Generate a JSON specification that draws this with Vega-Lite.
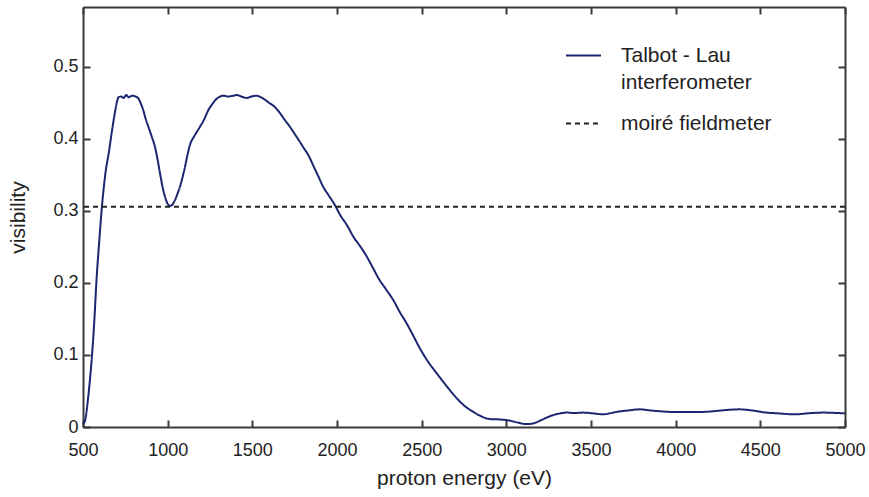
{
  "$schema": "https://vega.github.io/schema/vega-lite/v6.json",
  "width": 762,
  "height": 420,
  "autosize": "none",
  "padding": {"left": 83, "top": 7, "right": 24, "bottom": 70},
  "background": "white",
  "config": {
    "view": {"stroke": null},
    "font": "Liberation Sans",
    "style": {"guide-label": {"lineHeight": 27}},
    "axis": {
      "domainColor": "#3a3a3a",
      "domainWidth": 2,
      "tickColor": "#3a3a3a",
      "tickWidth": 2,
      "tickSize": -7,
      "grid": false,
      "labelFont": "Liberation Sans",
      "labelFontSize": 18,
      "labelColor": "#222222",
      "titleFont": "Liberation Sans",
      "titleFontSize": 21,
      "titleFontWeight": "normal",
      "titleColor": "#222222"
    },
    "legend": {"padding": 0}
  },
  "datasets": {
    "curve": [
      {"energy": 502, "visibility": 0.004, "series": "Talbot - Lau interferometer"},
      {"energy": 515, "visibility": 0.012, "series": "Talbot - Lau interferometer"},
      {"energy": 530, "visibility": 0.04, "series": "Talbot - Lau interferometer"},
      {"energy": 551, "visibility": 0.093, "series": "Talbot - Lau interferometer"},
      {"energy": 565, "visibility": 0.14, "series": "Talbot - Lau interferometer"},
      {"energy": 581, "visibility": 0.209, "series": "Talbot - Lau interferometer"},
      {"energy": 595, "visibility": 0.255, "series": "Talbot - Lau interferometer"},
      {"energy": 610, "visibility": 0.301, "series": "Talbot - Lau interferometer"},
      {"energy": 630, "visibility": 0.348, "series": "Talbot - Lau interferometer"},
      {"energy": 655, "visibility": 0.385, "series": "Talbot - Lau interferometer"},
      {"energy": 669, "visibility": 0.408, "series": "Talbot - Lau interferometer"},
      {"energy": 685, "visibility": 0.432, "series": "Talbot - Lau interferometer"},
      {"energy": 699, "visibility": 0.45, "series": "Talbot - Lau interferometer"},
      {"energy": 710, "visibility": 0.458, "series": "Talbot - Lau interferometer"},
      {"energy": 725, "visibility": 0.459, "series": "Talbot - Lau interferometer"},
      {"energy": 740, "visibility": 0.457, "series": "Talbot - Lau interferometer"},
      {"energy": 755, "visibility": 0.461, "series": "Talbot - Lau interferometer"},
      {"energy": 770, "visibility": 0.458, "series": "Talbot - Lau interferometer"},
      {"energy": 790, "visibility": 0.46, "series": "Talbot - Lau interferometer"},
      {"energy": 810, "visibility": 0.459, "series": "Talbot - Lau interferometer"},
      {"energy": 825, "visibility": 0.457, "series": "Talbot - Lau interferometer"},
      {"energy": 840, "visibility": 0.45, "series": "Talbot - Lau interferometer"},
      {"energy": 856, "visibility": 0.44, "series": "Talbot - Lau interferometer"},
      {"energy": 870, "visibility": 0.428, "series": "Talbot - Lau interferometer"},
      {"energy": 886, "visibility": 0.417, "series": "Talbot - Lau interferometer"},
      {"energy": 905, "visibility": 0.404, "series": "Talbot - Lau interferometer"},
      {"energy": 925, "visibility": 0.389, "series": "Talbot - Lau interferometer"},
      {"energy": 940, "visibility": 0.372, "series": "Talbot - Lau interferometer"},
      {"energy": 955, "visibility": 0.352, "series": "Talbot - Lau interferometer"},
      {"energy": 970, "visibility": 0.333, "series": "Talbot - Lau interferometer"},
      {"energy": 984, "visibility": 0.32, "series": "Talbot - Lau interferometer"},
      {"energy": 1000, "visibility": 0.31, "series": "Talbot - Lau interferometer"},
      {"energy": 1014, "visibility": 0.307, "series": "Talbot - Lau interferometer"},
      {"energy": 1028, "visibility": 0.309, "series": "Talbot - Lau interferometer"},
      {"energy": 1043, "visibility": 0.315, "series": "Talbot - Lau interferometer"},
      {"energy": 1058, "visibility": 0.324, "series": "Talbot - Lau interferometer"},
      {"energy": 1073, "visibility": 0.334, "series": "Talbot - Lau interferometer"},
      {"energy": 1088, "visibility": 0.347, "series": "Talbot - Lau interferometer"},
      {"energy": 1102, "visibility": 0.361, "series": "Talbot - Lau interferometer"},
      {"energy": 1117, "visibility": 0.378, "series": "Talbot - Lau interferometer"},
      {"energy": 1132, "visibility": 0.392, "series": "Talbot - Lau interferometer"},
      {"energy": 1160, "visibility": 0.405, "series": "Talbot - Lau interferometer"},
      {"energy": 1191, "visibility": 0.417, "series": "Talbot - Lau interferometer"},
      {"energy": 1215, "visibility": 0.427, "series": "Talbot - Lau interferometer"},
      {"energy": 1240, "visibility": 0.44, "series": "Talbot - Lau interferometer"},
      {"energy": 1265, "visibility": 0.449, "series": "Talbot - Lau interferometer"},
      {"energy": 1290, "visibility": 0.456, "series": "Talbot - Lau interferometer"},
      {"energy": 1310, "visibility": 0.459, "series": "Talbot - Lau interferometer"},
      {"energy": 1329, "visibility": 0.46, "series": "Talbot - Lau interferometer"},
      {"energy": 1360, "visibility": 0.459, "series": "Talbot - Lau interferometer"},
      {"energy": 1385, "visibility": 0.46, "series": "Talbot - Lau interferometer"},
      {"energy": 1408, "visibility": 0.461, "series": "Talbot - Lau interferometer"},
      {"energy": 1435, "visibility": 0.459, "series": "Talbot - Lau interferometer"},
      {"energy": 1467, "visibility": 0.457, "series": "Talbot - Lau interferometer"},
      {"energy": 1495, "visibility": 0.459, "series": "Talbot - Lau interferometer"},
      {"energy": 1526, "visibility": 0.46, "series": "Talbot - Lau interferometer"},
      {"energy": 1550, "visibility": 0.458, "series": "Talbot - Lau interferometer"},
      {"energy": 1565, "visibility": 0.456, "series": "Talbot - Lau interferometer"},
      {"energy": 1600, "visibility": 0.45, "series": "Talbot - Lau interferometer"},
      {"energy": 1630, "visibility": 0.445, "series": "Talbot - Lau interferometer"},
      {"energy": 1663, "visibility": 0.436, "series": "Talbot - Lau interferometer"},
      {"energy": 1690, "visibility": 0.427, "series": "Talbot - Lau interferometer"},
      {"energy": 1722, "visibility": 0.417, "series": "Talbot - Lau interferometer"},
      {"energy": 1750, "visibility": 0.407, "series": "Talbot - Lau interferometer"},
      {"energy": 1781, "visibility": 0.396, "series": "Talbot - Lau interferometer"},
      {"energy": 1805, "visibility": 0.387, "series": "Talbot - Lau interferometer"},
      {"energy": 1830, "visibility": 0.378, "series": "Talbot - Lau interferometer"},
      {"energy": 1860, "visibility": 0.363, "series": "Talbot - Lau interferometer"},
      {"energy": 1890, "visibility": 0.348, "series": "Talbot - Lau interferometer"},
      {"energy": 1920, "visibility": 0.333, "series": "Talbot - Lau interferometer"},
      {"energy": 1950, "visibility": 0.322, "series": "Talbot - Lau interferometer"},
      {"energy": 1988, "visibility": 0.308, "series": "Talbot - Lau interferometer"},
      {"energy": 2020, "visibility": 0.294, "series": "Talbot - Lau interferometer"},
      {"energy": 2057, "visibility": 0.281, "series": "Talbot - Lau interferometer"},
      {"energy": 2100, "visibility": 0.263, "series": "Talbot - Lau interferometer"},
      {"energy": 2140, "visibility": 0.25, "series": "Talbot - Lau interferometer"},
      {"energy": 2175, "visibility": 0.237, "series": "Talbot - Lau interferometer"},
      {"energy": 2210, "visibility": 0.222, "series": "Talbot - Lau interferometer"},
      {"energy": 2244, "visibility": 0.207, "series": "Talbot - Lau interferometer"},
      {"energy": 2290, "visibility": 0.191, "series": "Talbot - Lau interferometer"},
      {"energy": 2333, "visibility": 0.176, "series": "Talbot - Lau interferometer"},
      {"energy": 2370, "visibility": 0.16, "series": "Talbot - Lau interferometer"},
      {"energy": 2411, "visibility": 0.144, "series": "Talbot - Lau interferometer"},
      {"energy": 2450, "visibility": 0.127, "series": "Talbot - Lau interferometer"},
      {"energy": 2490, "visibility": 0.109, "series": "Talbot - Lau interferometer"},
      {"energy": 2540, "visibility": 0.09, "series": "Talbot - Lau interferometer"},
      {"energy": 2589, "visibility": 0.0745, "series": "Talbot - Lau interferometer"},
      {"energy": 2650, "visibility": 0.056, "series": "Talbot - Lau interferometer"},
      {"energy": 2707, "visibility": 0.04, "series": "Talbot - Lau interferometer"},
      {"energy": 2750, "visibility": 0.03, "series": "Talbot - Lau interferometer"},
      {"energy": 2805, "visibility": 0.021, "series": "Talbot - Lau interferometer"},
      {"energy": 2850, "visibility": 0.015, "series": "Talbot - Lau interferometer"},
      {"energy": 2903, "visibility": 0.011, "series": "Talbot - Lau interferometer"},
      {"energy": 2960, "visibility": 0.0105, "series": "Talbot - Lau interferometer"},
      {"energy": 3022, "visibility": 0.0088, "series": "Talbot - Lau interferometer"},
      {"energy": 3070, "visibility": 0.006, "series": "Talbot - Lau interferometer"},
      {"energy": 3120, "visibility": 0.004, "series": "Talbot - Lau interferometer"},
      {"energy": 3159, "visibility": 0.005, "series": "Talbot - Lau interferometer"},
      {"energy": 3210, "visibility": 0.01, "series": "Talbot - Lau interferometer"},
      {"energy": 3258, "visibility": 0.015, "series": "Talbot - Lau interferometer"},
      {"energy": 3300, "visibility": 0.018, "series": "Talbot - Lau interferometer"},
      {"energy": 3356, "visibility": 0.02, "series": "Talbot - Lau interferometer"},
      {"energy": 3400, "visibility": 0.0195, "series": "Talbot - Lau interferometer"},
      {"energy": 3455, "visibility": 0.02, "series": "Talbot - Lau interferometer"},
      {"energy": 3510, "visibility": 0.019, "series": "Talbot - Lau interferometer"},
      {"energy": 3573, "visibility": 0.0176, "series": "Talbot - Lau interferometer"},
      {"energy": 3610, "visibility": 0.019, "series": "Talbot - Lau interferometer"},
      {"energy": 3652, "visibility": 0.021, "series": "Talbot - Lau interferometer"},
      {"energy": 3720, "visibility": 0.023, "series": "Talbot - Lau interferometer"},
      {"energy": 3790, "visibility": 0.0245, "series": "Talbot - Lau interferometer"},
      {"energy": 3850, "visibility": 0.023, "series": "Talbot - Lau interferometer"},
      {"energy": 3900, "visibility": 0.022, "series": "Talbot - Lau interferometer"},
      {"energy": 3967, "visibility": 0.021, "series": "Talbot - Lau interferometer"},
      {"energy": 4050, "visibility": 0.0208, "series": "Talbot - Lau interferometer"},
      {"energy": 4100, "visibility": 0.021, "series": "Talbot - Lau interferometer"},
      {"energy": 4163, "visibility": 0.021, "series": "Talbot - Lau interferometer"},
      {"energy": 4250, "visibility": 0.0225, "series": "Talbot - Lau interferometer"},
      {"energy": 4320, "visibility": 0.024, "series": "Talbot - Lau interferometer"},
      {"energy": 4380, "visibility": 0.0245, "series": "Talbot - Lau interferometer"},
      {"energy": 4450, "visibility": 0.023, "series": "Talbot - Lau interferometer"},
      {"energy": 4537, "visibility": 0.02, "series": "Talbot - Lau interferometer"},
      {"energy": 4600, "visibility": 0.019, "series": "Talbot - Lau interferometer"},
      {"energy": 4705, "visibility": 0.0176, "series": "Talbot - Lau interferometer"},
      {"energy": 4780, "visibility": 0.019, "series": "Talbot - Lau interferometer"},
      {"energy": 4872, "visibility": 0.02, "series": "Talbot - Lau interferometer"},
      {"energy": 4950, "visibility": 0.0195, "series": "Talbot - Lau interferometer"},
      {"energy": 5000, "visibility": 0.019, "series": "Talbot - Lau interferometer"}
    ],
    "reference": [
      {"visibility": 0.306, "series": "moiré fieldmeter"}
    ]
  },
  "layer": [
    {
      "data": {"name": "curve"},
      "mark": {"type": "line", "strokeWidth": 2, "interpolate": "monotone"},
      "encoding": {
        "x": {
          "field": "energy", "type": "quantitative",
          "scale": {"domain": [500, 5000], "nice": false, "zero": false},
          "axis": {"title": "proton energy (eV)", "values": [500, 1000, 1500, 2000, 2500, 3000, 3500, 4000, 4500, 5000], "format": "d", "labelPadding": 21, "titlePadding": 8, "labelFlush": false}
        },
        "y": {
          "field": "visibility", "type": "quantitative",
          "scale": {"domain": [0, 0.5833], "nice": false},
          "axis": {"title": "visibility", "values": [0, 0.1, 0.2, 0.3, 0.4, 0.5], "labelExpr": "datum.value == 0 ? '0' : format(datum.value, '.1f')", "labelPadding": 12, "titlePadding": 24}
        },
        "color": {
          "field": "series", "type": "nominal",
          "scale": {"domain": ["Talbot - Lau interferometer", "moiré fieldmeter"], "range": ["#1b2570", "#222222"]},
          "legend": {
            "title": null, "orient": "none", "legendX": 482, "legendY": 30,
            "symbolType": "stroke", "symbolSize": 1225, "symbolStrokeWidth": 2,
            "labelFontSize": 21, "labelFont": "Liberation Sans", "labelColor": "#222222",
            "labelOffset": 19, "rowPadding": 12,
            "labelLimit": 400,
            "labelExpr": "datum.label == 'Talbot - Lau interferometer' ? ['Talbot - Lau', 'interferometer'] : datum.label"
          }
        },
        "strokeDash": {
          "field": "series", "type": "nominal",
          "scale": {"domain": ["Talbot - Lau interferometer", "moiré fieldmeter"], "range": [[1, 0], [5, 4]]},
          "legend": {
            "title": null, "orient": "none", "legendX": 482, "legendY": 30,
            "symbolType": "stroke", "symbolSize": 1225, "symbolStrokeWidth": 2,
            "labelFontSize": 21, "labelFont": "Liberation Sans", "labelColor": "#222222",
            "labelOffset": 19, "rowPadding": 12,
            "labelLimit": 400,
            "labelExpr": "datum.label == 'Talbot - Lau interferometer' ? ['Talbot - Lau', 'interferometer'] : datum.label"
          }
        }
      }
    },
    {
      "data": {"name": "reference"},
      "mark": {"type": "rule", "strokeWidth": 2},
      "encoding": {
        "y": {"field": "visibility", "type": "quantitative", "axis": null},
        "color": {"field": "series", "type": "nominal"},
        "strokeDash": {"field": "series", "type": "nominal"}
      }
    },
    {
      "data": {"name": "curve"},
      "mark": {"type": "line", "opacity": 0},
      "encoding": {
        "x": {
          "field": "energy", "type": "quantitative",
          "axis": {"orient": "top", "title": null, "labels": false, "values": [500, 1000, 1500, 2000, 2500, 3000, 3500, 4000, 4500, 5000]}
        },
        "y": {
          "field": "visibility", "type": "quantitative",
          "axis": {"orient": "right", "title": null, "labels": false, "values": [0, 0.1, 0.2, 0.3, 0.4, 0.5]}
        }
      }
    }
  ],
  "resolve": {"axis": {"x": "independent", "y": "independent"}}
}
